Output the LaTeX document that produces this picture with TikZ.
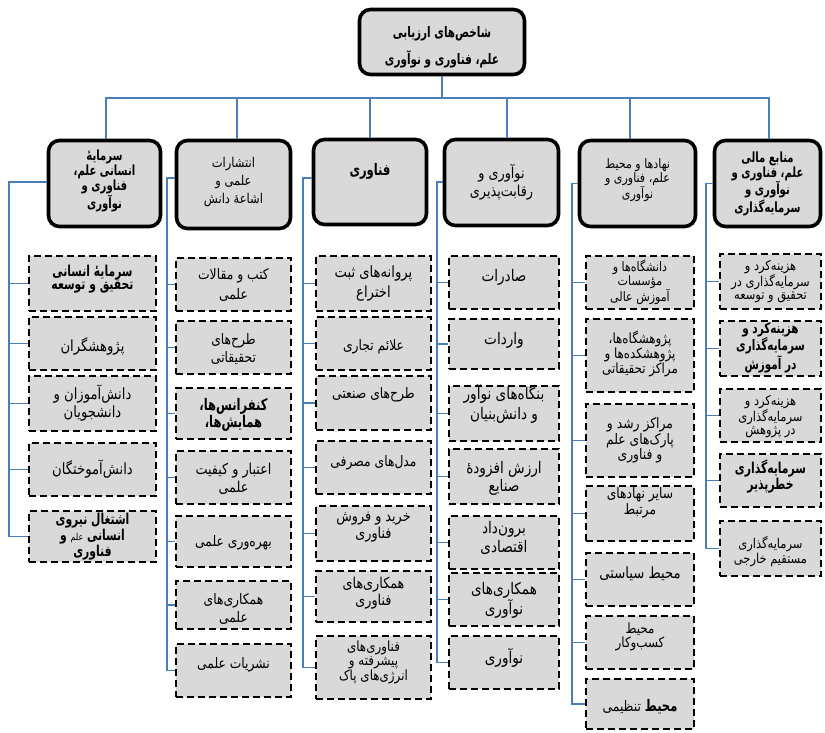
\documentclass[tikz,border=0pt]{standalone}
\usepackage{fontspec}
\newfontfamily\fafont[Script=Arabic, FakeStretch=0.85]{DejaVu Sans}
\newfontfamily\fabold[Script=Arabic, FakeStretch=0.72]{DejaVu Sans Bold}
\TeXXeTstate=1
\definecolor{conblue}{HTML}{4A7EBB}
\definecolor{boxgray}{HTML}{D9D9D9}
\newcommand\rl[1]{\beginR #1\endR}
\tikzset{
  conn/.style={draw=conblue, line width=1.1pt},
  hdr/.style={draw=black, line width=3.6pt, rounded corners=11pt, fill=boxgray, inner sep=0pt},
  itm/.style={draw=black, line width=2.2pt, dash pattern=on 7pt off 4pt, fill=boxgray, inner sep=0pt},
  tf/.style 2 args={font=\fafont\fontsize{#1}{#2}\selectfont},
  tb/.style 2 args={font=\fabold\fontsize{#1}{#2}\selectfont},
  txt/.style={align=center, inner sep=0pt, text=black, tf={13}{14}},
}
% name, x1, y1, x2, y2, text shift (down), font style, text
\newcommand\mkitem[8]{%
  \node[itm, minimum width={#4-#2-2}, minimum height={#5-#3-2}] (#1) at ({(#2+#4)/2},{(#3+#5)/2}) {};
  \node[txt, #7] (#1t) at ([yshift={-(#6)}]#1.center) {#8};
}
\newcommand\mkhdr[8]{%
  \node[hdr, minimum width={#4-#2-3}, minimum height={#5-#3-3}] (#1) at ({(#2+#4)/2},{(#3+#5)/2}) {};
  \node[txt, #7] (#1t) at ([yshift={-(#6)}]#1.center) {#8};
}
\begin{document}
\begin{tikzpicture}[x=1pt, y=-1pt]
\useasboundingbox (0,0) rectangle (825,733);
\fill[white] (0,0) rectangle (825,733);

% ---- spine coordinates
\coordinate (bus) at (442,98);
\coordinate (sp1) at (9,0);
\coordinate (sp2) at (167,0);
\coordinate (sp3) at (303,0);
\coordinate (sp4) at (437,0);
\coordinate (sp5) at (572,0);
\coordinate (sp6) at (706,0);

% ---- root
\mkhdr{root}{358}{8}{526}{76}{5}{tb={14.5}{27}}{\rl{شاخص^^^^200cهای ارزیابی}\\\rl{علم، فناوری و نوآوری}}

% ---- headers
\mkhdr{H1}{47}{139}{162}{228}{-3}{tb={14}{15}}{\rl{سرمایه^^^^0654}\\\rl{انسانی علم،}\\\rl{فناوری و}\\\rl{نوآوری}}
\mkhdr{H2}{175}{139}{292}{230}{-2}{tf={13.5}{18}}{\rl{انتشارات}\\\rl{علمی و}\\\rl{اشاعه^^^^0654 دانش}}
\mkhdr{H3}{312}{138}{428}{226}{-11}{tb={16}{15}}{\rl{فناوری}}
\mkhdr{H4}{443}{138}{560}{227}{0}{tf={15}{18}}{\rl{نوآوری و}\\\rl{رقابت^^^^200cپذیری}}
\mkhdr{H5}{578}{139}{697}{228}{-3}{tf={13}{13.5}}{\rl{نهادها و محیط}\\\rl{علم، فناوری و}\\\rl{نوآوری}}
\mkhdr{H6}{713}{139}{822}{228}{0}{tb={14}{14}}{\rl{منابع مالی}\\\rl{علم، فناوری و}\\\rl{نوآوری و}\\\rl{سرمایه^^^^200cگذاری}}

% ---- column 1
\mkitem{I11}{28}{255}{157}{312}{-4.5}{tb={15}{13.5}}{\rl{سرمایه^^^^0654 انسانی}\\\rl{تحقیق و توسعه}}
\mkitem{I12}{28}{316}{157}{371}{3}{tf={15.5}{13}}{\rl{پژوهشگران}}
\mkitem{I13}{28}{375}{157}{432}{0}{tf={15.5}{18}}{\rl{دانش^^^^200cآموزان و}\\\rl{دانشجویان}}
\mkitem{I14}{28}{442}{157}{497}{0}{tf={15.5}{13}}{\rl{دانش^^^^200cآموختگان}}
\mkitem{I15}{28}{510}{157}{563}{0}{tb={15}{13.5}}{\rl{اشتغال نیروی}\\\rl{انسانی {\fafont\fontsize{9.5}{10}\selectfont علم} و}\\\rl{فناوری}}

% ---- column 2
\mkitem{I21}{175}{257}{292}{312}{0}{tf={14.5}{20}}{\rl{کتب و مقالات}\\\rl{علمی}}
\mkitem{I22}{175}{320}{292}{375}{1.5}{tf={14.5}{18}}{\rl{طرح^^^^200cهای}\\\rl{تحقیقاتی}}
\mkitem{I23}{175}{387}{292}{440}{1}{tb={16}{15.5}}{\rl{کنفرانس^^^^200cها،}\\\rl{همایش^^^^200cها،}}
\mkitem{I24}{175}{450}{292}{505}{1.5}{tf={15}{18}}{\rl{اعتبار و کیفیت}\\\rl{علمی}}
\mkitem{I25}{175}{515}{292}{568}{1.5}{tf={14.5}{13}}{\rl{بهره^^^^200cوری علمی}}
\mkitem{I26}{175}{580}{292}{630}{4}{tf={14.5}{18}}{\rl{همکاری^^^^200cهای}\\\rl{علمی}}
\mkitem{I27}{175}{643}{292}{698}{-5.5}{tf={14.5}{13}}{\rl{نشریات علمی}}

% ---- column 3
\mkitem{I31}{315}{255}{432}{312}{0}{tf={15.5}{20}}{\rl{پروانه^^^^200cهای ثبت}\\\rl{اختراع}}
\mkitem{I32}{315}{316}{432}{371}{3}{tf={14.5}{13}}{\rl{علائم تجاری}}
\mkitem{I33}{315}{375}{432}{431}{-8}{tf={14.5}{13}}{\rl{طرح^^^^200cهای صنعتی}}
\mkitem{I34}{315}{440}{432}{495}{-5}{tf={14.5}{13}}{\rl{مدل^^^^200cهای مصرفی}}
\mkitem{I35}{315}{505}{432}{562}{-6}{tf={15}{17}}{\rl{خرید و فروش}\\\rl{فناوری}}
\mkitem{I36}{315}{570}{432}{623}{-3}{tf={15}{17}}{\rl{همکاری^^^^200cهای}\\\rl{فناوری}}
\mkitem{I37}{315}{635}{432}{700}{-5}{tf={14}{13.5}}{\rl{فناوری^^^^200cهای}\\\rl{پیشرفته و}\\\rl{انرژی^^^^200cهای پاک}}

% ---- column 4
\mkitem{I41}{448}{255}{560}{310}{-5}{tf={16}{13}}{\rl{صادرات}}
\mkitem{I42}{448}{318}{560}{370}{-4}{tf={16}{13}}{\rl{واردات}}
\mkitem{I43}{448}{385}{560}{442}{-10}{tf={16}{20}}{\rl{بنگاه^^^^200cهای نوآور}\\\rl{و دانش^^^^200cبنیان}}
\mkitem{I44}{448}{448}{560}{505}{2}{tf={16}{18}}{\rl{ارزش افزوده^^^^0654}\\\rl{صنایع}}
\mkitem{I45}{448}{515}{560}{570}{-5}{tf={16}{19}}{\rl{برون^^^^200cداد}\\\rl{اقتصادی}}
\mkitem{I46}{448}{572}{560}{627}{1}{tf={16}{18}}{\rl{همکاری^^^^200cهای}\\\rl{نوآوری}}
\mkitem{I47}{448}{635}{560}{690}{-5}{tf={16}{13}}{\rl{نوآوری}}

% ---- column 5
\mkitem{I51}{585}{255}{695}{310}{0}{tf={13}{13}}{\rl{دانشگاه^^^^200cها و}\\\rl{مؤسسات}\\\rl{آموزش عالی}}
\mkitem{I52}{585}{318}{695}{393}{-2}{tf={14}{14}}{\rl{پژوهشگاه^^^^200cها،}\\\rl{پژوهشکده^^^^200cها و}\\\rl{مراکز تحقیقاتی}}
\mkitem{I53}{585}{403}{695}{478}{0}{tf={14.5}{14}}{\rl{مراکز رشد و}\\\rl{پارک^^^^200cهای علم}\\\rl{و فناوری}}
\mkitem{I54}{585}{485}{695}{542}{-11}{tf={14.5}{14}}{\rl{سایر نهادهای}\\\rl{مرتبط}}
\mkitem{I55}{585}{552}{695}{607}{-6}{tf={15.5}{13}}{\rl{محیط سیاستی}}
\mkitem{I56}{585}{615}{695}{670}{-6}{tf={14}{14}}{\rl{محیط}\\\rl{کسب^^^^200cوکار}}
\mkitem{I57}{585}{678}{695}{730}{3}{tf={14.5}{13}}{\rl{{\fabold\fontsize{16}{13}\selectfont محیط} تنظیمی}}

% ---- column 6
\mkitem{I61}{719}{253}{822}{310}{0}{tf={13.5}{13}}{\rl{هزینه^^^^200cکرد و}\\\rl{سرمایه^^^^200cگذاری در}\\\rl{تحقیق و توسعه}}
\mkitem{I62}{719}{320}{822}{377}{-1}{tb={14.5}{13.5}}{\rl{هزینه^^^^200cکرد و}\\\rl{سرمایه^^^^200cگذاری}\\\rl{در آموزش}}
\mkitem{I63}{719}{388}{822}{443}{1}{tf={13.5}{13.5}}{\rl{هزینه^^^^200cکرد و}\\\rl{سرمایه^^^^200cگذاری}\\\rl{در پژوهش}}
\mkitem{I64}{719}{453}{822}{508}{-4}{tb={15}{14}}{\rl{سرمایه^^^^200cگذاری}\\\rl{خطرپذیر}}
\mkitem{I65}{719}{520}{822}{577}{3}{tf={13.5}{13}}{\rl{سرمایه^^^^200cگذاری}\\\rl{مستقیم خارجی}}

% ---- connectors: root to headers
\draw[conn] (root.south) -- (bus);
\draw[conn] (bus) -| ([xshift=1.5]H1.north);
\draw[conn] (bus) -| ([xshift=3.5]H2.north);
\draw[conn] (bus) -| (H3.north);
\draw[conn] (bus) -| ([xshift=5.5]H4.north);
\draw[conn] (bus) -| ([xshift=-7.5]H5.north);
\draw[conn] (bus) -| ([xshift=1.5]H6.north);

% ---- spines
\draw[conn] ([yshift=1.5]H1.west) -| (I15.west -| sp1) -- (I15.west);
\draw[conn] ([yshift=6.5]H2.west) -| (I27.west -| sp2) -- (I27.west);
\draw[conn] ([yshift=4]H3.west) -| (I37.west -| sp3) -- (I37.west);
\draw[conn] ([yshift=0.5]H4.west) -| (I47.west -| sp4) -- (I47.west);
\draw[conn] (H5.west) -| (I57.west -| sp5) -- (I57.west);
\draw[conn] (H6.west) -| (I65.west -| sp6) -- (I65.west);

\foreach \i in {I11,I12,I13,I14} \draw[conn] (\i.west -| sp1) -- (\i.west);
\foreach \i in {I21,I22,I23,I24,I25,I26} \draw[conn] (\i.west -| sp2) -- (\i.west);
\foreach \i in {I31,I32,I33,I34,I35,I36} \draw[conn] (\i.west -| sp3) -- (\i.west);
\foreach \i in {I41,I42,I43,I44,I45,I46} \draw[conn] (\i.west -| sp4) -- (\i.west);
\foreach \i in {I51,I52,I53,I54,I55,I56} \draw[conn] (\i.west -| sp5) -- (\i.west);
\foreach \i in {I61,I62,I63,I64} \draw[conn] (\i.west -| sp6) -- (\i.west);
\end{tikzpicture}
\end{document}
